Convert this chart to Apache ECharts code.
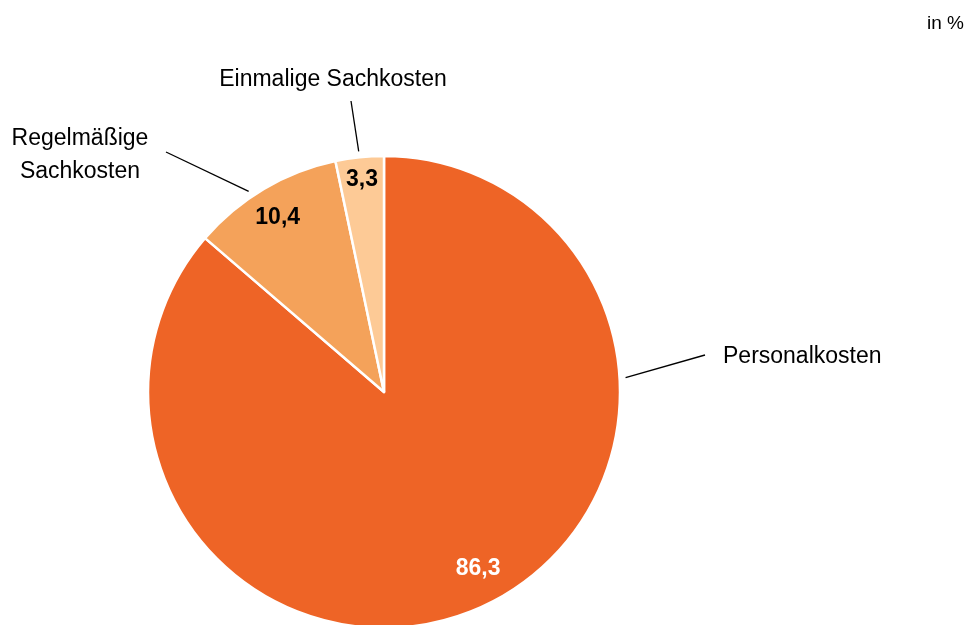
<!DOCTYPE html>
<html>
<head>
<meta charset="utf-8">
<script src="https://cdn.jsdelivr.net/npm/echarts@6/dist/echarts.min.js"></script>
<style>
  html, body { margin: 0; padding: 0; background: #ffffff; }
  #chart { width: 972px; height: 625px; }
</style>
</head>
<body>
<div id="chart"></div>
<script>
// Cost shares (in %)
const categories = ['Personalkosten', 'Regelmäßige\nSachkosten', 'Einmalige Sachkosten'];
const values = [86.3, 10.4, 3.3];
const colors = ['#EE6426', '#F4A25A', '#FDCA96'];
const valueLabelColors = ['#ffffff', '#000000', '#000000'];
const unitLabel = 'in %';

// Pie geometry (pixels)
const CX = 384, CY = 392, R = 236;
const FONT = '"Liberation Sans", Arial, sans-serif';

// Mid angle of each slice, degrees clockwise from 12 o'clock
const total = values.reduce((a, b) => a + b, 0);
const midAngles = [];
let acc = 0;
values.forEach(v => { midAngles.push((acc + v / 2) / total * 360); acc += v; });

function polar(angleDeg, dist) {
  const a = angleDeg * Math.PI / 180;
  return [CX + dist * Math.sin(a), CY - dist * Math.cos(a)];
}

// Value labels near the outer rim of each slice
const valueLabelAngleShift = [-3.4, -0.8, 0];
const valueLabelDist = [200, 204, 213];

// Category labels: anchor point and alignment
const nameLabelPos = [[723, 357, 'left'], [80, 155, 'center'], [333, 80, 'center']];
// Leader lines: angle where they start beside the pie, and end offset from the label anchor
const leaderAngles = [86.6, 326, 354];
const leaderGap = 242;
const leaderLabelOffsets = [[-18, -2], [86, -3], [18, 21]];

const fmt = v => String(v).replace('.', ',');

const chart = echarts.init(document.getElementById('chart'), null, { renderer: 'canvas' });

chart.setOption({
  animation: false,
  backgroundColor: '#ffffff',
  title: {
    text: unitLabel,
    right: 3,
    top: 9,
    textStyle: { fontFamily: FONT, fontSize: 19, fontWeight: 'normal', color: '#000000' }
  },
  series: [
    {
      type: 'pie',
      center: [CX, CY],
      radius: R,
      startAngle: 90,
      clockwise: true,
      silent: true,
      itemStyle: { borderColor: '#ffffff', borderWidth: 2.5 },
      label: {
        show: true,
        position: 'inside',
        fontFamily: FONT,
        fontSize: 23,
        fontWeight: 'bold',
        formatter: p => fmt(p.value)
      },
      labelLine: { show: false },
      labelLayout: params => {
        const i = params.dataIndex;
        const [x, y] = polar(midAngles[i] + valueLabelAngleShift[i], valueLabelDist[i]);
        return { x, y, align: 'center', verticalAlign: 'middle' };
      },
      data: values.map((v, i) => ({
        name: categories[i],
        value: v,
        itemStyle: { color: colors[i] },
        label: { color: valueLabelColors[i] }
      }))
    },
    {
      type: 'pie',
      center: [CX, CY],
      radius: R,
      startAngle: 90,
      clockwise: true,
      silent: true,
      avoidLabelOverlap: false,
      itemStyle: { color: 'rgba(0,0,0,0)', borderWidth: 0 },
      label: {
        show: true,
        position: 'outside',
        fontFamily: FONT,
        fontSize: 23,
        lineHeight: 33,
        color: '#000000',
        align: 'center',
        formatter: '{b}'
      },
      labelLine: { show: true, lineStyle: { color: '#000000', width: 1.3 } },
      labelLayout: params => {
        const i = params.dataIndex;
        const [lx, ly, align] = nameLabelPos[i];
        const start = polar(leaderAngles[i], leaderGap);
        const end = [lx + leaderLabelOffsets[i][0], ly + leaderLabelOffsets[i][1]];
        return {
          x: lx, y: ly, align: align, verticalAlign: 'middle',
          labelLinePoints: [end, end, start]
        };
      },
      data: values.map((v, i) => ({ name: categories[i], value: v }))
    }
  ]
});
</script>
</body>
</html>
